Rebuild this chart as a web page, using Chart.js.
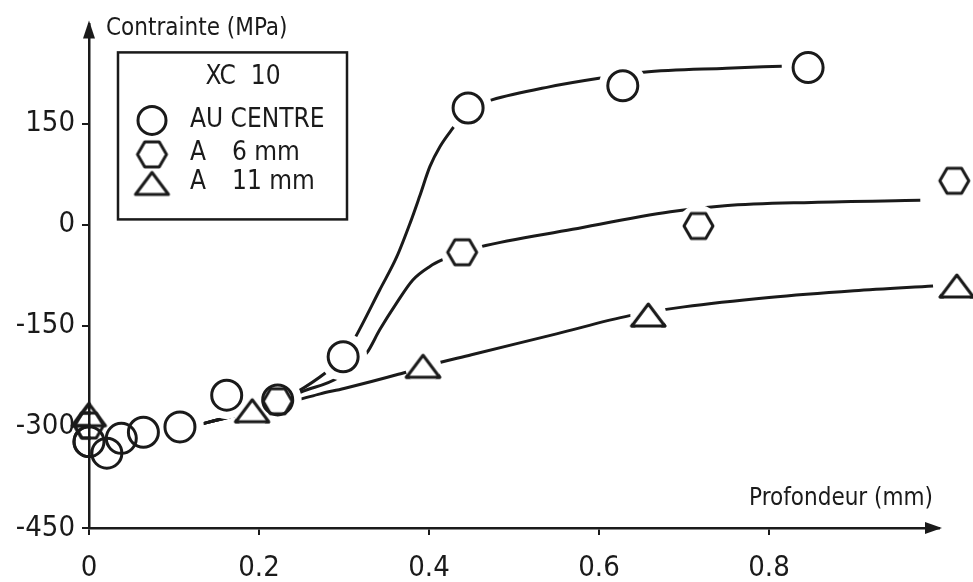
<!DOCTYPE html>
<html>
<head>
<meta charset="utf-8">
<style>
  html, body { margin: 0; padding: 0; background: #fff; }
  #wrap { width: 973px; height: 582px; }
</style>
<script src="https://cdn.jsdelivr.net/npm/chart.js@4.4.1/dist/chart.umd.min.js"></script>
</head>
<body>
<div id="wrap"><canvas id="chart" width="973" height="582"></canvas></div>
<script>
// --- values ---
const xTicks = [0, 0.2, 0.4, 0.6, 0.8];
const xTickLabels = ['0', '0.2', '0.4', '0.6', '0.8'];
const yTicks = [-450, -300, -150, 0, 150];
const yTickLabels = ['-450', '-300', '-150', '0', '150'];

// measured points (depth mm, stress MPa)
const centreDepth = [0, 0.021, 0.038, 0.064, 0.107, 0.162, 0.222, 0.299, 0.446, 0.628, 0.846];
const centreStress = [-322, -339, -317, -308, -300, -253, -260, -196, 173, 206, 233];
const mm6Depth = [0, 0.222, 0.439, 0.717, 1.018];
const mm6Stress = [-298, -262, -41, -2, 65];
const mm11Depth = [0, 0.192, 0.393, 0.658, 1.021];
const mm11Stress = [-282, -276, -210, -134, -91];

// hand drawn trend curves
const centreCurveDepth = [0.125, 0.166, 0.192, 0.221, 0.245, 0.278, 0.300, 0.313, 0.342, 0.362, 0.378, 0.389, 0.401, 0.413, 0.428, 0.446, 0.474, 0.54, 0.60, 0.652, 0.75, 0.815];
const centreCurveStress = [-298, -285, -276, -264, -248, -220, -196, -168, -97, -48, 3, 42, 86, 116, 143, 172, 185, 204, 217, 226, 232, 235];
const mm6CurveDepth = [0.125, 0.166, 0.192, 0.221, 0.25, 0.293, 0.327, 0.342, 0.362, 0.381, 0.401, 0.416, 0.439, 0.46, 0.569, 0.684, 0.748, 0.85, 0.978];
const mm6CurveStress = [-298, -285, -276, -264, -248, -227, -190, -156, -116, -82, -62, -52, -41, -33, -7, 19, 28, 33, 36];
const mm11CurveDepth = [0.125, 0.166, 0.192, 0.221, 0.245, 0.272, 0.30, 0.364, 0.393, 0.45, 0.55, 0.636, 0.70, 0.80, 0.90, 0.993];
const mm11CurveStress = [-298, -285, -276, -266, -260, -251, -243, -222, -211, -193, -162, -135, -122, -108, -98, -91];

const ink = '#1a1a1a';
const FONT = "'Liberation Sans Narrow', 'DejaVu Sans Condensed', 'Liberation Sans', sans-serif";

function toPoints(xs, ys) {
    return xs.map((x, i) => ({ x: x, y: ys[i] }));
}

// hexagon / triangle markers drawn on small canvases (no fill)
function makeHexagon(w, h, lw) {
    const c = document.createElement('canvas');
    c.width = w + lw * 2; c.height = h + lw * 2;
    const g = c.getContext('2d');
    const cx = c.width / 2, cy = c.height / 2;
    g.strokeStyle = ink; g.lineWidth = lw; g.lineJoin = 'round';
    g.beginPath();
    g.moveTo(cx - w / 2, cy);
    g.lineTo(cx - w / 4, cy - h / 2);
    g.lineTo(cx + w / 4, cy - h / 2);
    g.lineTo(cx + w / 2, cy);
    g.lineTo(cx + w / 4, cy + h / 2);
    g.lineTo(cx - w / 4, cy + h / 2);
    g.closePath();
    g.stroke();
    return c;
}

function makeTriangle(w, h, lw) {
    const c = document.createElement('canvas');
    c.width = w + lw * 2; c.height = h + lw * 2;
    const g = c.getContext('2d');
    const cx = c.width / 2, cy = c.height / 2;
    g.strokeStyle = ink; g.lineWidth = lw; g.lineJoin = 'round';
    g.beginPath();
    g.moveTo(cx, cy - h / 2);
    g.lineTo(cx + w / 2, cy + h / 2);
    g.lineTo(cx - w / 2, cy + h / 2);
    g.closePath();
    g.stroke();
    return c;
}

const hexImg = makeHexagon(29, 25, 3);
const triImg = makeTriangle(33, 22, 3);

// white gap radius around each kind of symbol, as in the drawing
const haloRadius = { 'AU CENTRE': 24, 'A 6 mm': 21, 'A 11 mm': 18 };

// opens the gaps in the lines around the symbols, then puts the symbols back on top
const haloPlugin = {
    id: 'halo',
    afterDatasetsDraw(chart) {
        const { ctx, chartArea: a } = chart;
        const metas = chart.getSortedVisibleDatasetMetas().filter(m => haloRadius[m.label]);
        ctx.save();
        // keep the axes untouched
        ctx.beginPath();
        ctx.rect(a.left + 2, 0, chart.width - a.left, a.bottom - 2);
        ctx.clip();
        ctx.fillStyle = '#fff';
        metas.forEach(m => {
            const r = haloRadius[m.label];
            m.data.forEach(pt => {
                ctx.beginPath();
                ctx.arc(pt.x, pt.y, r, 0, Math.PI * 2);
                ctx.fill();
            });
        });
        ctx.restore();
        metas.forEach(m => m.data.forEach(pt => pt.draw(ctx)));
    }
};

// axes arrows, axis names and the boxed key of the original figure
const paperPlugin = {
    id: 'paper',
    afterDraw(chart) {
        const { ctx, chartArea: a } = chart;
        ctx.save();
        ctx.fillStyle = ink;

        // arrow heads
        ctx.beginPath();
        ctx.moveTo(a.left, a.top - 4);
        ctx.lineTo(a.left - 6, a.top + 14);
        ctx.lineTo(a.left + 6, a.top + 14);
        ctx.closePath();
        ctx.fill();
        ctx.beginPath();
        ctx.moveTo(a.right + 3, a.bottom);
        ctx.lineTo(a.right - 14, a.bottom - 6);
        ctx.lineTo(a.right - 14, a.bottom + 6);
        ctx.closePath();
        ctx.fill();

        // axis names
        ctx.font = '24px ' + FONT;
        ctx.textBaseline = 'middle';
        ctx.textAlign = 'left';
        ctx.fillText('Contrainte (MPa)', a.left + 17, a.top + 4);
        ctx.textAlign = 'right';
        ctx.fillText('Profondeur (mm)', a.right - 6, a.bottom - 29);

        // key box
        const bx = a.left + 29, by = a.top + 28, bw = 229, bh = 167;
        ctx.strokeStyle = ink;
        ctx.lineWidth = 2.5;
        ctx.strokeRect(bx, by, bw, bh);

        ctx.font = '26px ' + FONT;
        ctx.textAlign = 'center';
        ctx.fillText('XC  10', bx + 125, by + 25);

        ctx.textAlign = 'left';
        const sx = bx + 34, tx = bx + 72;
        ctx.lineWidth = 3;
        ctx.beginPath();
        ctx.arc(sx, by + 68, 14, 0, Math.PI * 2);
        ctx.stroke();
        ctx.fillText('AU CENTRE', tx, by + 68);

        ctx.drawImage(hexImg, sx - hexImg.width / 2, by + 102 - hexImg.height / 2);
        ctx.fillText('A', tx, by + 101);
        ctx.fillText('6 mm', tx + 42, by + 101);

        ctx.drawImage(triImg, sx - triImg.width / 2, by + 131 - triImg.height / 2);
        ctx.fillText('A', tx, by + 130);
        ctx.fillText('11 mm', tx + 42, by + 130);

        ctx.restore();
    }
};

const curveStyle = {
    type: 'line',
    borderColor: ink,
    borderWidth: 3,
    pointRadius: 0,
    fill: false,
    cubicInterpolationMode: 'monotone',
    clip: false,
    order: 3
};

const markerStyle = {
    type: 'line',
    showLine: false,
    borderColor: ink,
    backgroundColor: 'rgba(0,0,0,0)',
    pointBorderWidth: 3,
    clip: false,
    order: 1
};

const chart = new Chart(document.getElementById('chart'), {
    type: 'line',
    data: {
        datasets: [
            Object.assign({ label: 'curve centre', data: toPoints(centreCurveDepth, centreCurveStress) }, curveStyle),
            Object.assign({ label: 'curve 6 mm', data: toPoints(mm6CurveDepth, mm6CurveStress) }, curveStyle),
            Object.assign({ label: 'curve 11 mm', data: toPoints(mm11CurveDepth, mm11CurveStress) }, curveStyle),
            Object.assign({ label: 'AU CENTRE', data: toPoints(centreDepth, centreStress), pointStyle: 'circle', pointRadius: 15 }, markerStyle),
            Object.assign({ label: 'A 6 mm', data: toPoints(mm6Depth, mm6Stress), pointStyle: hexImg, pointRadius: 15 }, markerStyle),
            Object.assign({ label: 'A 11 mm', data: toPoints(mm11Depth, mm11Stress), pointStyle: triImg, pointRadius: 15 }, markerStyle)
        ]
    },
    options: {
        responsive: false,
        animation: false,
        devicePixelRatio: 1,
        layout: { padding: { top: 12, right: 34, left: 0, bottom: 0 } },
        plugins: {
            legend: { display: false },
            tooltip: { enabled: false }
        },
        scales: {
            x: {
                type: 'linear',
                min: 0,
                max: 1.0,
                afterBuildTicks: s => { s.ticks = xTicks.map(v => ({ value: v })); },
                afterFit: s => { s.height = 54; },
                ticks: {
                    callback: v => xTickLabels[xTicks.indexOf(v)],
                    autoSkip: false,
                    maxRotation: 0,
                    padding: 16,
                    color: ink,
                    font: { family: FONT, size: 29 }
                },
                grid: { drawOnChartArea: false, drawTicks: true, tickLength: 7, color: ink, lineWidth: 2 },
                border: { display: true, color: ink, width: 2.5 }
            },
            y: {
                type: 'linear',
                min: -450,
                max: 297,
                afterBuildTicks: s => { s.ticks = yTicks.map(v => ({ value: v })); },
                afterFit: s => { s.width = 89; },
                ticks: {
                    callback: v => yTickLabels[yTicks.indexOf(v)],
                    autoSkip: false,
                    padding: 7,
                    color: ink,
                    font: { family: FONT, size: 29 }
                },
                grid: { drawOnChartArea: false, drawTicks: true, tickLength: 7, color: ink, lineWidth: 2 },
                border: { display: true, color: ink, width: 2.5 }
            }
        }
    },
    plugins: [haloPlugin, paperPlugin]
});
</script>
</body>
</html>
